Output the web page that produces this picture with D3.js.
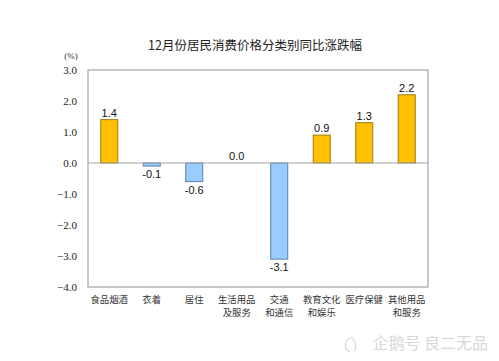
<!DOCTYPE html>
<html><head><meta charset="utf-8">
<script src="https://cdn.jsdelivr.net/npm/d3@7"></script>
<style>body{margin:0;background:#fff}svg{display:block}</style>
</head><body>
<svg id="c" width="499" height="361"></svg>
<script>
const categories = [["食品烟酒"],["衣着"],["居住"],["生活用品","及服务"],["交通","和通信"],["教育文化","和娱乐"],["医疗保健"],["其他用品","和服务"]];
const values = [1.4, -0.1, -0.6, 0.0, -3.1, 0.9, 1.3, 2.2];
const yTicks = [3.0, 2.0, 1.0, 0.0, -1.0, -2.0, -3.0, -4.0];
const title = "12月份居民消费价格分类别同比涨跌幅";

const svg = d3.select("#c");
const m = {l:88, r:428, t:70, b:287};
const x = d3.scaleBand().domain(d3.range(categories.length)).range([m.l, m.r]).paddingInner(0.6).paddingOuter(0.3);
const y = d3.scaleLinear().domain([-4, 3]).range([m.b, m.t]);

svg.append("text").attr("x", 255).attr("y", 50).attr("text-anchor","middle")
  .attr("font-family","'Noto Sans CJK SC', sans-serif").attr("font-size",12.5).attr("fill","#222")
  .text(title);

svg.append("text").attr("x", 71).attr("y", 59).attr("text-anchor","middle")
  .attr("font-family","'Liberation Serif', serif").attr("font-size",9).attr("fill","#333").text("(%)");

// axis
const ya = d3.axisLeft(y).tickValues(yTicks).tickFormat(d3.format(".1f")).tickSize(0).tickPadding(11);
const g = svg.append("g").attr("transform",`translate(${m.l},0)`).call(ya);
g.select(".domain").remove();
g.selectAll("text").attr("font-family","'Liberation Serif', serif").attr("font-size",11).attr("fill","#222");

// bars
svg.selectAll("rect.bar").data(values).join("rect").attr("class","bar")
  .attr("x",(d,i)=>x(i)).attr("width",x.bandwidth())
  .attr("y",d=>y(Math.max(0,d))).attr("height",d=>Math.abs(y(d)-y(0)))
  .attr("fill",d=>d>=0?"#FFC000":"#99CCFF")
  .attr("stroke",d=>d>=0?"#A07A10":"#5A7FA8").attr("stroke-width",1);

// frame and zero line
svg.append("rect").attr("x",m.l).attr("y",m.t).attr("width",m.r-m.l).attr("height",m.b-m.t)
  .attr("fill","none").attr("stroke","#A6A6A6").attr("stroke-width",1.2);
svg.append("line").attr("x1",m.l).attr("x2",m.r).attr("y1",y(0)).attr("y2",y(0))
  .attr("stroke","#A6A6A6").attr("stroke-width",1.2);

// value labels
svg.selectAll("text.val").data(values).join("text").attr("class","val")
  .attr("x",(d,i)=>x(i)+x.bandwidth()/2)
  .attr("y",d=>d>=0? y(d)-3 : y(d)+12)
  .attr("text-anchor","middle").attr("font-family","'Liberation Sans', Arial, sans-serif")
  .attr("font-size",11).attr("fill","#111").text(d=>d.toFixed(1));

// category labels
const cl = svg.selectAll("text.cat").data(categories).join("text").attr("class","cat")
  .attr("text-anchor","middle").attr("font-family","'Noto Sans CJK SC', sans-serif")
  .attr("font-size",9.4).attr("fill","#333");
cl.each(function(d,i){
  const t = d3.select(this);
  d.forEach((s,j)=>t.append("tspan").attr("x",x(i)+x.bandwidth()/2).attr("y",303+j*13).text(s));
});

// watermark
svg.append("text").attr("x",488).attr("y",349).attr("text-anchor","end")
  .attr("font-family","'Noto Sans CJK SC', sans-serif").attr("font-size",16).attr("fill","#D8D8D8")
  .text("企鹅号 良二无品");
svg.append("path").attr("d","M352,337 C344,340 343,350 350,352 M352,337 C356,342 357,348 354,351")
  .attr("fill","none").attr("stroke","#DADADA").attr("stroke-width",1.2);
</script>
</body></html>
